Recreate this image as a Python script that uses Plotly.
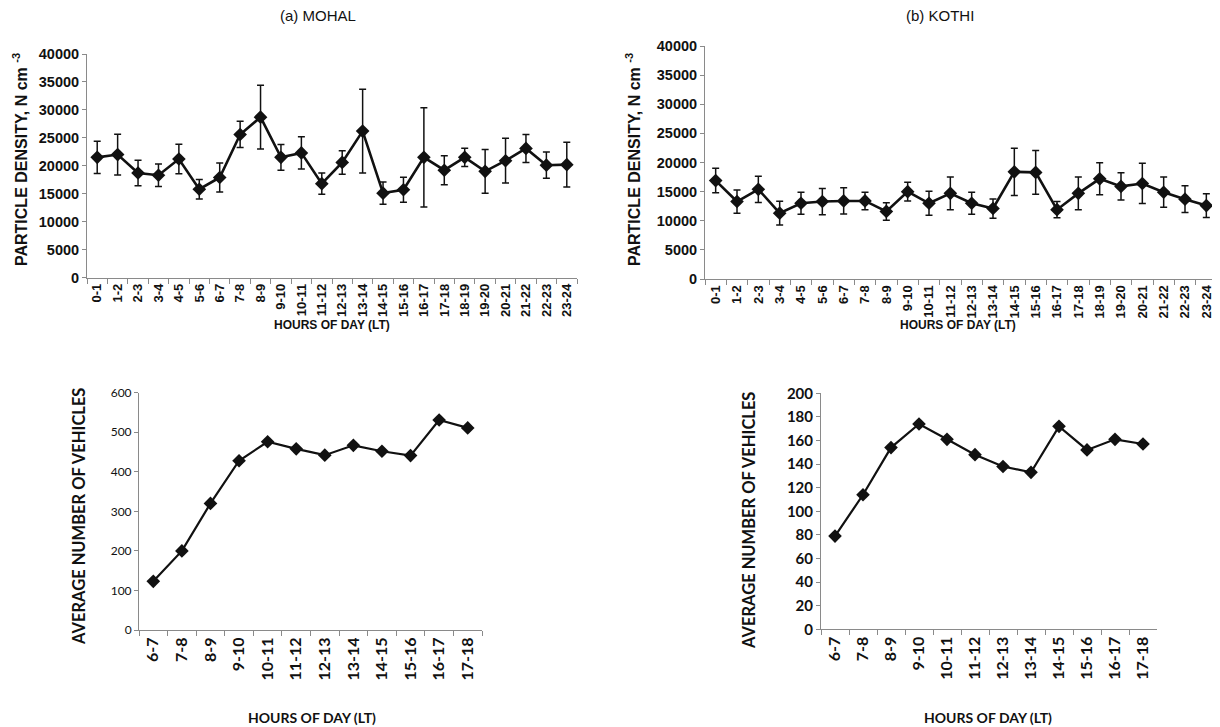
import plotly.graph_objects as go

# page body has an 8px margin, so the figure is sized to fill the remaining window
OFF = 8
W, H = 1220 - OFF, 727 - OFF

hours24 = ["0-1", "1-2", "2-3", "3-4", "4-5", "5-6", "6-7", "7-8", "8-9", "9-10", "10-11", "11-12",
           "12-13", "13-14", "14-15", "15-16", "16-17", "17-18", "18-19", "19-20", "20-21", "21-22",
           "22-23", "23-24"]
mohal_density = [21500, 22000, 18700, 18300, 21200, 15800, 17900, 25600, 28700, 21500, 22300, 16800,
                 20600, 26200, 15100, 15700, 21500, 19200, 21500, 19000, 20900, 23100, 20100, 20200]
mohal_err = [2900, 3650, 2300, 2000, 2650, 1750, 2600, 2350, 5700, 2300, 2900, 1900,
             2100, 7500, 2000, 2250, 8900, 2600, 1650, 3900, 4000, 2500, 2350, 4000]
kothi_density = [16900, 13300, 15400, 11300, 13000, 13300, 13400, 13400, 11600, 15000, 13000, 14700,
                 13000, 12100, 18400, 18300, 11900, 14700, 17200, 15900, 16400, 14900, 13700, 12600]
kothi_err = [2100, 2000, 2250, 2050, 1900, 2250, 2250, 1500, 1500, 1600, 2050, 2800,
             1900, 1650, 4050, 3750, 1400, 2800, 2750, 2350, 3450, 2600, 2300, 2050]

hours12 = ["6-7", "7-8", "8-9", "9-10", "10-11", "11-12", "12-13", "13-14", "14-15", "15-16", "16-17", "17-18"]
mohal_vehicles = [123, 200, 320, 428, 476, 458, 442, 467, 452, 441, 531, 511]
kothi_vehicles = [79, 114, 154, 174, 161, 148, 138, 133, 172, 152, 161, 157]


def fx(px):
    return (px - OFF) / W


def fy(py):
    return 1 - (py - OFF) / H


def px_x(a, b):
    return [fx(a), fx(b)]


def px_y(top, bottom):
    return [fy(bottom), fy(top)]


ink = "#111111"
axis_col = "#8a8a8a"

fig = go.Figure()


def add_err_trace(x, y, err, xa, ya):
    fig.add_trace(go.Scatter(
        x=x, y=y, xaxis=xa, yaxis=ya, mode="lines+markers",
        line=dict(color=ink, width=2.6),
        marker=dict(symbol="diamond", size=10.5, color=ink),
        error_y=dict(type="data", array=err, visible=True, color=ink, thickness=1.5, width=3.5),
        showlegend=False, hoverinfo="x+y"))


def add_trace(x, y, xa, ya):
    fig.add_trace(go.Scatter(
        x=x, y=y, xaxis=xa, yaxis=ya, mode="lines+markers",
        line=dict(color=ink, width=2.2),
        marker=dict(symbol="diamond", size=10.5, color=ink),
        showlegend=False, hoverinfo="x+y"))


add_err_trace(hours24, mohal_density, mohal_err, "x", "y")
add_err_trace(hours24, kothi_density, kothi_err, "x2", "y2")
add_trace(hours12, mohal_vehicles, "x3", "y3")
add_trace(hours12, kothi_vehicles, "x4", "y4")

arial_b = "Liberation Sans, Arial, sans-serif"
cal = "Lato, Open Sans, sans-serif"


def xcat(domain, anchor, cats, fam, size):
    return dict(domain=domain, anchor=anchor, type="category", categoryorder="array", categoryarray=cats,
                range=[-0.5, len(cats) - 0.5], showline=True, linecolor=axis_col, linewidth=1,
                ticks="outside", tickson="boundaries", ticklen=5, tickcolor=axis_col, tickwidth=1,
                tickangle=-90, showgrid=False, zeroline=False, automargin=False,
                tickfont=dict(family=fam, size=size, color=ink, weight="bold"))


def yval(domain, anchor, rng, dtick, fam, size, bold=True):
    return dict(domain=domain, anchor=anchor, range=rng, dtick=dtick, tick0=0, showline=True,
                linecolor=axis_col, linewidth=1, ticks="outside", ticklen=4, tickcolor=axis_col,
                tickwidth=1, showgrid=False, zeroline=False, tickformat="d", automargin=False,
                tickfont=dict(family=fam, size=size, color=ink, weight="bold" if bold else "normal"))


fig.update_layout(
    width=W, height=H, margin=dict(l=0, r=0, t=0, b=0, pad=0),
    paper_bgcolor="white", plot_bgcolor="white",
    xaxis=xcat(px_x(87, 577), "y", hours24, arial_b, 13),
    yaxis=yval(px_y(54, 277.5), "x", [0, 40000], 5000, arial_b, 14.5),
    xaxis2=xcat(px_x(705, 1217), "y2", hours24, arial_b, 13),
    yaxis2=yval(px_y(46, 279), "x2", [0, 40000], 5000, arial_b, 14.5),
    xaxis3=xcat(px_x(139, 482), "y3", hours12, cal, 16),
    yaxis3=yval(px_y(392.7, 630), "x3", [0, 600], 100, cal, 12, bold=False),
    xaxis4=xcat(px_x(821, 1157), "y4", hours12, cal, 16),
    yaxis4=yval(px_y(393.3, 629.3), "x4", [0, 200], 20, cal, 15),
)


def ann(text, x, y, size, fam, angle=0, bold=True):
    fig.add_annotation(text=text, x=fx(x), y=fy(y), xref="paper", yref="paper",
                       showarrow=False, textangle=angle, xanchor="center", yanchor="middle",
                       font=dict(family=fam, size=size, color=ink, weight="bold" if bold else "normal"))


ann("(a) MOHAL", 318, 15, 15, arial_b, bold=False)
ann("(b) KOTHI", 940, 15, 15, arial_b, bold=False)
ann("PARTICLE DENSITY, N cm <sup>-3</sup>", 20, 160, 16, arial_b, angle=-90)
ann("PARTICLE DENSITY, N cm <sup>-3</sup>", 633, 160, 16, arial_b, angle=-90)
ann("HOURS OF DAY (LT)", 332, 325, 12, arial_b)
ann("HOURS OF DAY (LT)", 958, 325, 12, arial_b)
ann("AVERAGE NUMBER OF VEHICLES", 79, 517, 16.5, cal, angle=-90)
ann("AVERAGE NUMBER OF VEHICLES", 749, 521, 16.5, cal, angle=-90)
ann("HOURS OF DAY (LT)", 312, 717, 14, cal)
ann("HOURS OF DAY (LT)", 988, 717, 14, cal)

fig.write_html("out.html")
